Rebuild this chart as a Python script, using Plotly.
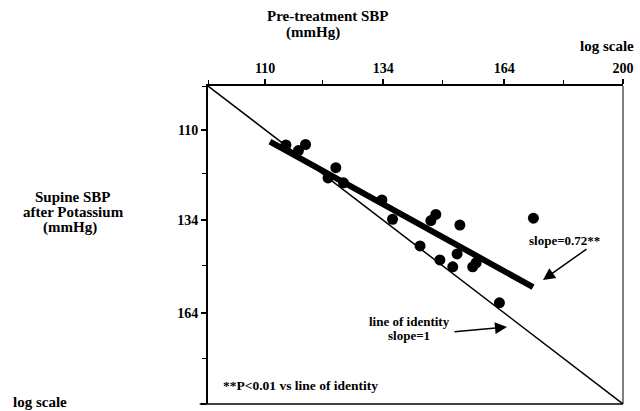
import math
import plotly.graph_objects as go

# ---- data (mmHg) ----
pre_sbp = [113.9, 117.7, 116.3, 123.8, 122.2, 125.4, 133.7, 136.1, 146.3, 145.1,
           152.3, 142.5, 147.3, 150.5, 151.6, 155.6, 156.5, 162.7, 172.2]
post_sbp = [113.7, 113.6, 115.1, 119.5, 122.2, 123.5, 128.2, 133.7, 132.3, 134.1,
            135.4, 141.7, 146.1, 148.3, 144.2, 148.3, 147.0, 160.4, 133.4]
identity_x = [100, 200]
identity_y = [100, 200]
reg_x = [110.9, 172.1]
reg_y = [112.9, 155.0]
tick_vals = [110, 134, 164, 200]
minor_vals = [100, 121, 148, 181]

FONT = "Liberation Serif"

fig = go.Figure()
fig.add_trace(go.Scatter(x=identity_x, y=identity_y, mode="lines",
                         line=dict(color="black", width=1.5), showlegend=False))
fig.add_trace(go.Scatter(x=reg_x, y=reg_y, mode="lines",
                         line=dict(color="black", width=6), showlegend=False))
fig.add_trace(go.Scatter(x=pre_sbp, y=post_sbp, mode="markers",
                         marker=dict(color="black", size=11), showlegend=False))

L, R, T, B = 208, 17, 86, 7
W, H = 640, 411
pw, ph = W - L - R, H - T - B

def px(x):
    return (x - L) / pw

def py(y):
    return 1 - (y - T) / ph

axis_common = dict(type="log", tickmode="array", tickvals=tick_vals,
                   ticktext=[str(v) for v in tick_vals],
                   ticks="outside", ticklen=5, tickwidth=1.5, tickcolor="black",
                   showline=True, linecolor="black", linewidth=2,
                   showgrid=False, zeroline=False, automargin=False,
                   tickfont=dict(family=FONT, size=14, color="black", weight="bold"),
                   minor=dict(tickvals=minor_vals, ticks="outside", ticklen=4,
                              tickcolor="black", tickwidth=1, showgrid=False))

fig.update_xaxes(side="top", range=[2, math.log10(200)], **axis_common)
fig.update_yaxes(range=[math.log10(200), 2], **axis_common)

ann = []
def text(t, x, y, size=13, xanchor="center"):
    ann.append(dict(text=t, x=px(x), y=py(y), xref="paper", yref="paper",
                    showarrow=False, xanchor=xanchor, yanchor="middle",
                    font=dict(family=FONT, size=size, color="black", weight="bold")))

text("Pre-treatment SBP", 328, 16, 15)
text("(mmHg)", 313, 33, 15)
text("log scale", 607, 46, 15)
text("Supine SBP", 72, 197, 15)
text("after Potassium", 73, 212, 15)
text("(mmHg)", 70, 227, 15)
text("log scale", 40, 402, 15)
text("slope=0.72**", 564, 240, 13)
text("line of identity", 409, 321, 13)
text("slope=1", 409, 335, 13)
text("**P<0.01 vs line of identity", 221, 385, 13.5, xanchor="left")

def arrow(tip, tail):
    ann.append(dict(text="", x=px(tip[0]), y=py(tip[1]), xref="paper", yref="paper",
                    showarrow=True, ax=tail[0] - tip[0], ay=tail[1] - tip[1],
                    axref="pixel", ayref="pixel",
                    arrowhead=2, arrowsize=1.6, arrowwidth=1.5, arrowcolor="black"))

arrow((543, 280), (588, 248))
arrow((507, 327), (453, 332))

fig.update_layout(
    width=W, height=H, margin=dict(l=L, r=R, t=T, b=B, autoexpand=False),
    plot_bgcolor="white", paper_bgcolor="white",
    annotations=ann,
    shapes=[
        dict(type="line", xref="paper", yref="paper", x0=1, x1=1, y0=0, y1=1,
             line=dict(color="black", width=1)),
        dict(type="line", xref="paper", yref="paper", x0=-0.02, x1=1, y0=0, y1=0,
             line=dict(color="black", width=1.5)),
    ],
)

fig.write_html("out.html", config={"displayModeBar": False},
               post_script="document.body.style.margin='0';document.body.style.overflow='hidden';")
